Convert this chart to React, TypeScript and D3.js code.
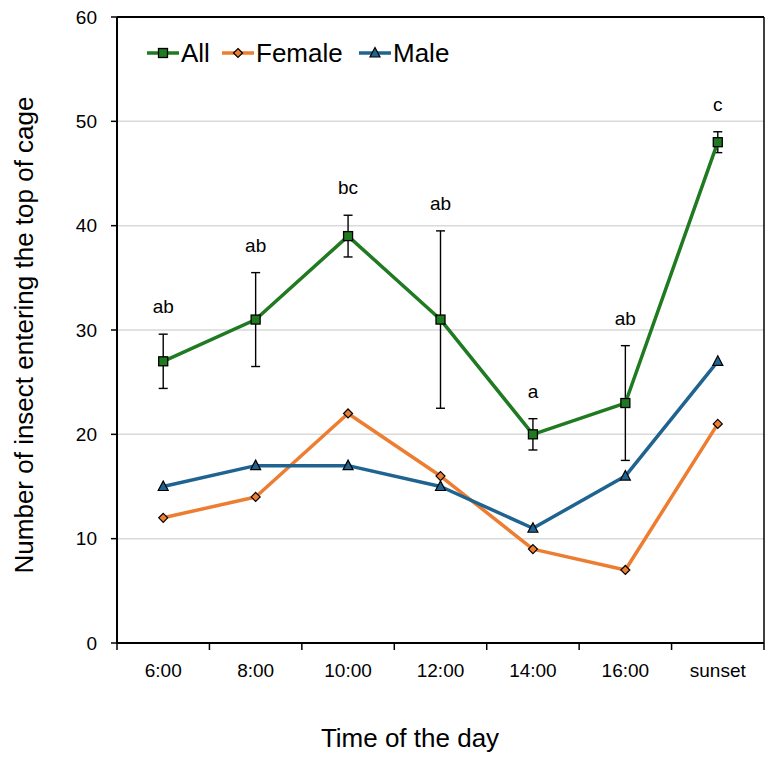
import React from "react";
import * as d3 from "d3";

const categories = ["6:00", "8:00", "10:00", "12:00", "14:00", "16:00", "sunset"];
const allValues = [27, 31, 39, 31, 20, 23, 48];
const allErrors = [2.6, 4.5, 2.0, 8.5, 1.5, 5.5, 1.0];
const femaleValues = [12, 14, 22, 16, 9, 7, 21];
const maleValues = [15, 17, 17, 15, 11, 16, 27];
const letters = ["ab", "ab", "bc", "ab", "a", "ab", "c"];
const yTicks = [0, 10, 20, 30, 40, 50, 60];

const W = 773;
const H = 763;
const margin = { left: 117, right: 9, top: 17, bottom: 120 };
const FONT = "Liberation Sans, Arial, sans-serif";

const GREEN = "#1f7a22";
const ORANGE = "#ed7d31";
const BLUE = "#1f6490";

export default function App() {
  const x = d3
    .scaleBand<string>()
    .domain(categories)
    .range([margin.left, W - margin.right])
    .padding(0);
  const y = d3.scaleLinear().domain([0, 60]).range([H - margin.bottom, margin.top]);
  const cx = (i: number) => (x(categories[i]) as number) + x.bandwidth() / 2;

  const line = d3
    .line<number>()
    .x((_, i) => cx(i))
    .y((v) => y(v));

  const x0 = margin.left;
  const x1 = W - margin.right;
  const y0 = y(0);
  const yTop = y(60);

  const square = (px: number, py: number, key: string) => (
    <rect key={key} x={px - 4.5} y={py - 4.5} width={9} height={9} fill={GREEN} stroke="#000" strokeWidth={1.3} />
  );
  const diamond = (px: number, py: number, key: string) => (
    <path
      key={key}
      d={`M${px},${py - 4.5}L${px + 4.5},${py}L${px},${py + 4.5}L${px - 4.5},${py}Z`}
      fill={ORANGE}
      stroke="#000"
      strokeWidth={1.2}
    />
  );
  const triangle = (px: number, py: number, key: string) => (
    <path
      key={key}
      d={`M${px},${py - 5.5}L${px + 5},${py + 4}L${px - 5},${py + 4}Z`}
      fill={BLUE}
      stroke="#000"
      strokeWidth={1.2}
    />
  );

  const legend = [
    { label: "All", color: GREEN, x: 147, marker: square },
    { label: "Female", color: ORANGE, x: 222, marker: diamond },
    { label: "Male", color: BLUE, x: 359, marker: triangle },
  ];

  return (
    <svg width={W} height={H} style={{ display: "block", position: "absolute", left: 0, top: 0 }}>
      <rect x={0} y={0} width={W} height={H} fill="#fff" />
      {/* horizontal gridlines */}
      {yTicks
        .filter((t) => t > 0 && t < 60)
        .map((t) => (
          <line key={t} x1={x0} x2={x1} y1={y(t)} y2={y(t)} stroke="#d9d9d9" strokeWidth={1.5} />
        ))}

      {/* frame */}
      <line x1={x0} x2={x1} y1={yTop} y2={yTop} stroke="#000" strokeWidth={2} />
      <line x1={x1} x2={x1} y1={yTop} y2={y0} stroke="#000" strokeWidth={1.5} />
      <line x1={x0} x2={x0} y1={yTop} y2={y0} stroke="#000" strokeWidth={2} />
      <line x1={x0} x2={x1} y1={y0} y2={y0} stroke="#000" strokeWidth={2} />

      {/* y ticks and labels */}
      {yTicks.map((t) => (
        <g key={t}>
          <line x1={x0 - 6} x2={x0} y1={y(t)} y2={y(t)} stroke="#000" strokeWidth={1.5} />
          <text x={97} y={y(t) + 6.5} textAnchor="end" fontFamily={FONT} fontSize={19} fill="#000">
            {t}
          </text>
        </g>
      ))}

      {/* x ticks at category boundaries and labels */}
      {[...categories.map((c) => x(c) as number), x1].map((bx, i) => (
        <line key={i} x1={bx} x2={bx} y1={y0} y2={y0 + 7} stroke="#000" strokeWidth={1.5} />
      ))}
      {categories.map((c, i) => (
        <text key={c} x={cx(i)} y={y0 + 34} textAnchor="middle" fontFamily={FONT} fontSize={19} fill="#000">
          {c}
        </text>
      ))}

      {/* error bars on the All series */}
      {allValues.map((v, i) => {
        const px = cx(i);
        const hi = y(v + allErrors[i]);
        const lo = y(v - allErrors[i]);
        return (
          <g key={i} stroke="#000" strokeWidth={1.4}>
            <line x1={px} x2={px} y1={hi} y2={lo} />
            <line x1={px - 4.5} x2={px + 4.5} y1={hi} y2={hi} />
            <line x1={px - 4.5} x2={px + 4.5} y1={lo} y2={lo} />
          </g>
        );
      })}

      {/* series lines */}
      <path d={line(femaleValues) as string} fill="none" stroke={ORANGE} strokeWidth={3.5} strokeLinejoin="round" />
      <path d={line(maleValues) as string} fill="none" stroke={BLUE} strokeWidth={3.5} strokeLinejoin="round" />
      <path d={line(allValues) as string} fill="none" stroke={GREEN} strokeWidth={3.5} strokeLinejoin="round" />

      {/* markers */}
      {femaleValues.map((v, i) => diamond(cx(i), y(v), `f${i}`))}
      {maleValues.map((v, i) => triangle(cx(i), y(v), `m${i}`))}
      {allValues.map((v, i) => square(cx(i), y(v), `a${i}`))}

      {/* significance letters */}
      {letters.map((l, i) => (
        <text
          key={i}
          x={cx(i)}
          y={y(allValues[i] + allErrors[i]) - 21}
          textAnchor="middle"
          fontFamily={FONT}
          fontSize={19}
          fill="#000"
        >
          {l}
        </text>
      ))}

      {/* legend */}
      {legend.map((lg) => (
        <g key={lg.label}>
          <line x1={lg.x} x2={lg.x + 32} y1={53} y2={53} stroke={lg.color} strokeWidth={3.5} />
          {lg.marker(lg.x + 16, 53, lg.label)}
          <text x={lg.x + 34} y={62} fontFamily={FONT} fontSize={26} fill="#000">
            {lg.label}
          </text>
        </g>
      ))}

      {/* axis titles */}
      <text x={410} y={747} textAnchor="middle" fontFamily={FONT} fontSize={26} fill="#000">
        Time of the day
      </text>
      <text
        transform={`translate(33,335) rotate(-90)`}
        textAnchor="middle"
        fontFamily={FONT}
        fontSize={26}
        fill="#000"
      >
        Number of insect entering the top of cage
      </text>
    </svg>
  );
}
